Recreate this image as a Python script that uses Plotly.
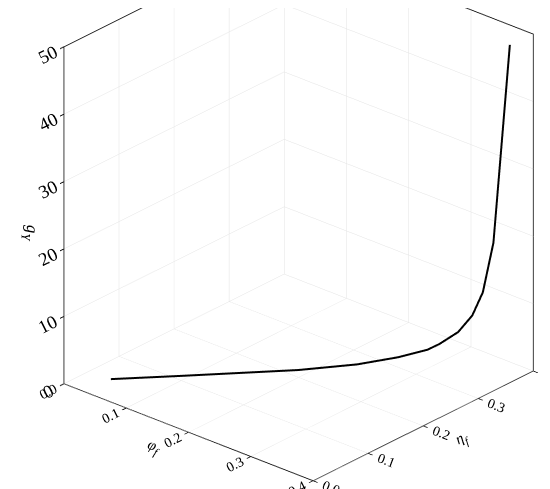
import plotly.graph_objects as go

# curve data (phi_f = eta_f along the curve)
phi_f = [0.04, 0.10, 0.15, 0.20, 0.25, 0.285, 0.31, 0.32, 0.336, 0.348, 0.357, 0.366, 0.38]
eta_f = [0.04, 0.10, 0.15, 0.20, 0.25, 0.285, 0.31, 0.32, 0.336, 0.348, 0.357, 0.366, 0.38]
g_y = [0.5, 0.7, 0.9, 1.1, 1.7, 2.6, 3.6, 4.4, 6.1, 8.5, 11.9, 19.2, 48.5]

xy_ticks = [0.0, 0.1, 0.2, 0.3, 0.4]
xy_labels = ['0.0', '0.1', '0.2', '0.3', '0.4']
z_ticks = [0, 10, 20, 30, 40, 50]

serif = 'Liberation Serif, Times New Roman, serif'

fig = go.Figure()
fig.add_trace(go.Scatter3d(
    x=phi_f, y=eta_f, z=g_y,
    mode='lines',
    line=dict(color='black', width=4),
    showlegend=False,
    hoverinfo='skip',
))


def axis(title, ticks, labels, rng, size):
    return dict(
        title=dict(text=title, font=dict(family=serif, size=size + 2, color='black')),
        range=rng,
        tickmode='array', tickvals=ticks, ticktext=labels,
        tickfont=dict(family=serif, size=size, color='black'),
        showgrid=True, gridcolor='#e3e3e3', gridwidth=1,
        showline=True, linecolor='#222222', linewidth=2,
        ticks='outside', ticklen=6, tickcolor='black', tickwidth=2,
        showbackground=False,
        zeroline=False,
        showspikes=False,
        mirror=True,
    )


fig.update_layout(
    width=550, height=489,
    margin=dict(l=0, r=0, t=0, b=0),
    paper_bgcolor='white',
    scene=dict(
        xaxis=axis('<i>φ<sub>f</sub></i>', xy_ticks, xy_labels, [0, 0.4], 13),
        yaxis=axis('<i>η<sub>f</sub></i>', xy_ticks, xy_labels, [0, 0.4], 13),
        zaxis=axis('<i>g<sub>Y</sub></i>', z_ticks, [str(v) for v in z_ticks], [0, 50], 15),
        aspectmode='manual',
        aspectratio=dict(x=1.36, y=1.36, z=1.535),
        camera=dict(
            eye=dict(x=0.913, y=-1.129, z=0.513),
            center=dict(x=-0.05, y=-0.04, z=-0.2),
            up=dict(x=0, y=0, z=1),
            projection=dict(type='orthographic'),
        ),
        domain=dict(x=[0, 1], y=[0, 1]),
    ),
)

fig.write_html("out.html")
